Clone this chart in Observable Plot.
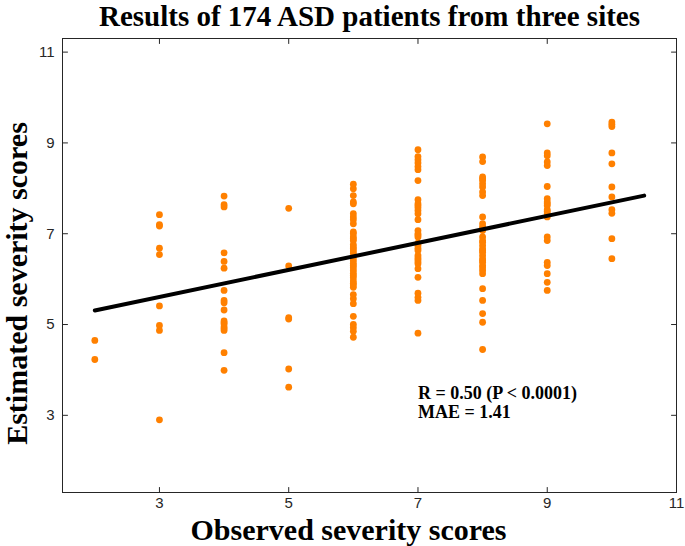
<!DOCTYPE html>
<html><head><meta charset="utf-8">
<script src="https://cdn.jsdelivr.net/npm/d3@7"></script>
<script src="https://cdn.jsdelivr.net/npm/@observablehq/plot@0.6"></script>
<style>body{margin:0;background:#fff}</style>
</head><body><div id="chart"></div>
<script>
// Observed severity score for each column of points
const observedScores = [2, 3, 4, 5, 6, 7, 8, 9, 10];
// Estimated severity scores, one array per observed score
const est2 = [4.65, 4.23];
const est3 = [7.42, 7.20, 7.17, 6.68, 6.54, 5.41, 4.98, 4.87, 2.90];
const est4 = [7.83, 7.64, 7.59, 6.58, 6.39, 6.24, 5.75, 5.53, 5.48, 5.32, 5.08, 5.01, 4.95, 4.87, 4.38, 3.99, 5.04, 4.91];
const est5 = [7.56, 6.29, 5.15, 5.12, 4.02, 3.62];
const est6 = [8.09, 7.99, 7.84, 7.70, 7.66, 7.44, 7.37, 7.31, 7.22, 7.00, 6.93, 6.85, 6.76, 6.67, 6.57, 6.47, 6.35, 6.25, 6.19, 6.08, 6.03, 5.91, 5.82, 5.66, 5.57, 5.46, 5.18, 5.00, 4.93, 4.85, 4.72,
              7.04, 6.89, 6.71, 6.62, 6.41, 6.30, 6.13, 5.96, 5.87];
const est7 = [8.85, 8.70, 8.63, 8.56, 8.48, 8.41, 8.17, 7.75, 7.66, 7.57, 7.51, 7.44, 7.31, 7.07, 7.00, 6.93, 6.79, 6.74, 6.63, 6.52, 6.43, 6.34, 6.23, 6.04, 5.69, 5.60, 5.53, 4.81,
              7.62, 6.97, 6.68, 6.47, 6.38];
const est8 = [8.69, 8.59, 8.25, 8.17, 8.10, 8.03, 7.92, 7.84, 7.37, 7.22, 7.15, 7.07, 6.93, 6.81, 6.74, 6.67, 6.59, 6.52, 6.45, 6.37, 6.30, 6.19, 6.12, 5.79, 5.53, 5.24, 5.05, 4.45,
              8.21, 7.11, 6.85, 6.63, 6.41, 6.25];
const est9 = [9.42, 8.78, 8.72, 8.58, 8.50, 8.04, 7.77, 7.70, 7.62, 7.53, 7.44, 7.37, 6.93, 6.85, 6.37, 6.30, 6.12, 5.93, 5.75, 7.66, 7.49];
const est10 = [9.46, 9.41, 9.36, 8.78, 8.54, 8.03, 7.81, 7.53, 7.45, 6.89, 6.45];
const estimatedByObserved = [est2, est3, est4, est5, est6, est7, est8, est9, est10];

// Fitted regression line end points
const fitX = [2, 10.5];
const fitY = [5.31, 7.84];

// Axis ticks
const xTicks = [3, 5, 7, 9, 11];
const yTicks = [3, 5, 7, 9, 11];

// Texts
const titleText = "Results of 174 ASD patients from three sites";
const xTitle = "Observed severity scores";
const yTitle = "Estimated severity scores";
const statLines = ["R = 0.50 (P < 0.0001)", "MAE = 1.41"];
const statX = 7;
const statY = 3.37;

const points = observedScores.flatMap((o, i) => estimatedByObserved[i].map(e => ({observed: o, estimated: e})));
const fit = fitX.map((x, i) => ({x, y: fitY[i]}));

const serif = "'Liberation Serif', 'Times New Roman', serif";
const sans = "'Liberation Sans', Arial, sans-serif";
const axisColor = "#262626";
const tickShape = {draw(context, l) { context.moveTo(0, 0); context.lineTo(0, -l); }};
const tickOpts = {length: 5, anchor: "start", shape: tickShape, stroke: axisColor, strokeWidth: 1};
const statStyle = {x: statX, y: statY, textAnchor: "start", lineAnchor: "bottom", fontFamily: serif, fontWeight: "bold", fontSize: 18, fill: "#000"};

const chart = Plot.plot({
  width: 685,
  height: 546,
  marginLeft: 62,
  marginRight: 9,
  marginTop: 38,
  marginBottom: 54,
  style: {background: "#fff", fontSize: "15px", fontFamily: sans},
  x: {domain: [1.5, 11]},
  y: {domain: [1.3, 11.3]},
  marks: [
    Plot.frame({stroke: axisColor, strokeWidth: 1}),
    Plot.axisX(xTicks, {anchor: "bottom", tickSize: 0, tickPadding: 5, fontSize: 15, fill: axisColor, label: null}),
    Plot.axisY(yTicks, {anchor: "left", tickSize: 0, tickPadding: 8, fontSize: 15, fill: axisColor, label: null}),
    Plot.vector(xTicks, {x: d => d, frameAnchor: "bottom", rotate: 0, ...tickOpts}),
    Plot.vector(xTicks, {x: d => d, frameAnchor: "top", rotate: 180, ...tickOpts}),
    Plot.vector(yTicks, {y: d => d, frameAnchor: "left", rotate: 90, ...tickOpts}),
    Plot.vector(yTicks, {y: d => d, frameAnchor: "right", rotate: -90, ...tickOpts}),
    Plot.dot(points, {x: "observed", y: "estimated", r: 3.4, fill: "#ff8000", stroke: null}),
    Plot.line(fit, {x: "x", y: "y", stroke: "#000", strokeWidth: 4}),
    Plot.text([statLines[0]], {...statStyle, text: d => d, dy: 0}),
    Plot.text([statLines[1]], {...statStyle, text: d => d, dy: 19}),
    Plot.text([titleText], {frameAnchor: "top", dy: -22, lineAnchor: "middle", text: d => d, fontFamily: serif, fontWeight: "bold", fontSize: 29, fill: "#000"}),
    Plot.text([xTitle], {frameAnchor: "bottom", dy: 38, dx: -21, lineAnchor: "middle", text: d => d, fontFamily: serif, fontWeight: "bold", fontSize: 30, fill: "#000"}),
    Plot.text([yTitle], {frameAnchor: "left", dx: -45, dy: 18, rotate: -90, textAnchor: "middle", lineAnchor: "middle", text: d => d, fontFamily: serif, fontWeight: "bold", fontSize: 30, fill: "#000"})
  ]
});
document.getElementById("chart").appendChild(chart);
</script>
</body></html>
